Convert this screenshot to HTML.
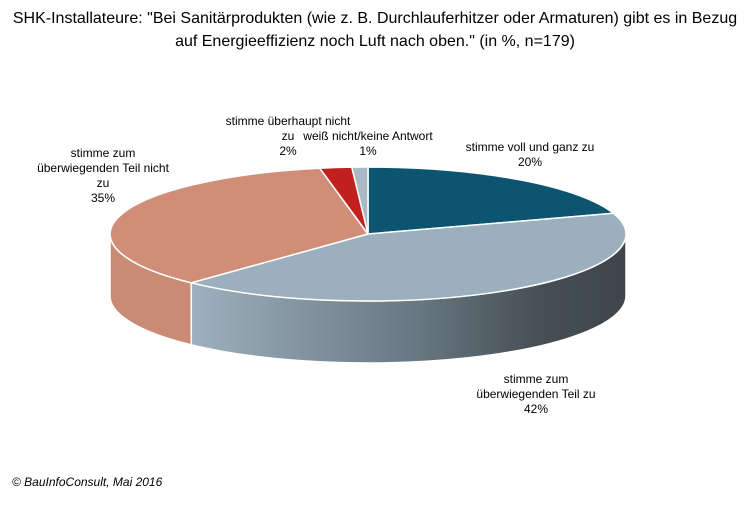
<!DOCTYPE html>
<html><head><meta charset="utf-8"><style>
body{margin:0;background:#fff;}
svg text{font-family:"Liberation Sans",Arial,sans-serif;fill:#000;}
</style></head><body>
<svg width="750" height="500" viewBox="0 0 750 500" xmlns="http://www.w3.org/2000/svg">
<defs>
<linearGradient id="g" x1="191" y1="0" x2="626" y2="0" gradientUnits="userSpaceOnUse">
<stop offset="0" stop-color="#9db0bd"/><stop offset="0.5" stop-color="#6a7a84"/><stop offset="0.8" stop-color="#464f55"/><stop offset="1" stop-color="#3e464b"/>
</linearGradient>
</defs>
<text x="375" y="23" font-size="16" text-anchor="middle">SHK-Installateure: "Bei Sanitärprodukten (wie z. B. Durchlauferhitzer oder Armaturen) gibt es in Bezug</text>
<text x="375" y="46" font-size="16" text-anchor="middle">auf Energieeffizienz noch Luft nach oben." (in %, n=179)</text>
<path d="M110,234 A258,67 0 0 0 191.3,282.8 L191.3,344.8 A258,67 0 0 1 110,296 Z" fill="#c98b75" stroke="#fff" stroke-width="1.5"/>
<path d="M191.3,282.8 A258,67 0 0 0 626,234 L626,296 A258,67 0 0 1 191.3,344.8 Z" fill="url(#g)" stroke="#fff" stroke-width="1.5"/>
<path d="M368,234 L368,167 A258,67 0 0 1 613.4,213.3 Z" fill="#0c5570" stroke="#fff" stroke-width="1.5"/>
<path d="M368,234 L613.4,213.3 A258,67 0 0 1 191.3,282.8 Z" fill="#9bafbc" stroke="#fff" stroke-width="1.5"/>
<path d="M368,234 L191.3,282.8 A258,67 0 0 1 319.7,168.2 Z" fill="#d08e79" stroke="#fff" stroke-width="1.5"/>
<path d="M368,234 L319.7,168.2 A258,67 0 0 1 351.8,167.1 Z" fill="#c1201f" stroke="#fff" stroke-width="1.5"/>
<path d="M368,234 L351.8,167.1 A258,67 0 0 1 368,167 Z" fill="#aab9c2" stroke="#fff" stroke-width="1.5"/>
<g font-size="12" text-anchor="middle">
<text x="530" y="151">stimme voll und ganz zu</text>
<text x="530" y="166">20%</text>
<text x="536" y="383">stimme zum</text>
<text x="536" y="398">überwiegenden Teil zu</text>
<text x="536" y="413">42%</text>
<text x="103" y="157">stimme zum</text>
<text x="103" y="172">überwiegenden Teil nicht</text>
<text x="103" y="187">zu</text>
<text x="103" y="202">35%</text>
<text x="288" y="125">stimme überhaupt nicht</text>
<text x="288" y="140">zu</text>
<text x="288" y="155">2%</text>
<text x="368" y="140">weiß nicht/keine Antwort</text>
<text x="368" y="155">1%</text>
</g>
<text x="12" y="486" font-size="12" font-style="italic">© BauInfoConsult, Mai 2016</text>
</svg>
</body></html>
